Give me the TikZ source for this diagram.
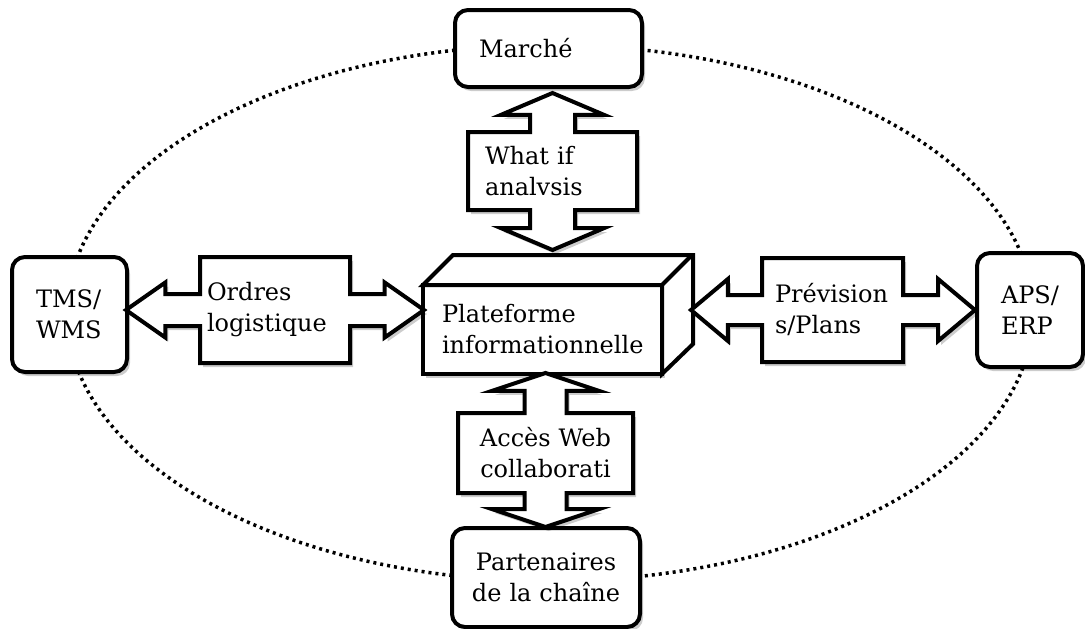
\documentclass[tikz,border=0pt]{standalone}
\usepackage{fontspec}
\setmainfont{DejaVu Serif}
\usetikzlibrary{calc,shapes.arrows,shadows}
\hyphenpenalty=10000
\exhyphenpenalty=10000

\tikzset{
	texte/.style={font=\fontsize{24}{31}\selectfont},
	ombre/.style={drop shadow={shadow xshift=3pt, shadow yshift=-4pt, opacity=0.2, fill=black}},
	bloc/.style={draw, line width=4pt, rounded corners=13pt, fill=white, align=left, inner xsep=24pt, inner ysep=0pt, ombre},
	fleche/.style={arrow box, draw, line width=4pt, fill=white, align=left, inner ysep=0pt, ombre}
}

\begin{document}
\begin{tikzpicture}[x=1pt, y=-1pt, every node/.style={texte}]
	\useasboundingbox (0,0) rectangle (1085,629);

	\draw[line width=3.5pt, dash pattern=on 3pt off 4pt] (550,313) ellipse [x radius=483, y radius=268];

	\node[bloc, text width=139pt, minimum height=77pt] (marche) at (548.5,48.5) {Marché};
	\node[bloc, text width=67pt, minimum height=115pt] (tms) at (69.5,314.5) {TMS/\\WMS};
	\node[bloc, text width=58pt, minimum height=114pt] (aps) at (1030,310) {APS/\\ERP};
	\node[bloc, align=center, inner xsep=6pt, text width=176pt, minimum height=99pt] (part) at (546,577.5) {Partenaires\\de la chaîne};

	\node[draw, line width=4pt, fill=white, align=left, inner xsep=19pt, inner ysep=0pt, outer sep=0pt,
		text width=201pt, minimum height=89pt, ombre] (plat) at (542.5,329.5) {Plateforme\\informationnelle};
	\draw[line width=4pt, fill=white] (plat.north west) -- ++(30,-30) -- ++(240,0) -- ++(0,89) -- (plat.south east) -- (plat.north east) -- cycle;
	\draw[line width=4pt] (plat.north east) -- ++(30,-30);

	\node[fleche, text width=135pt, inner xsep=17pt, minimum height=78pt,
		arrow box arrows={north:37pt, south:38pt}, arrow box shaft width=45pt,
		arrow box head extend=29pt, arrow box tip angle=134] (whatif) at (552.5,171) {What if\\analvsis};
	\node[fleche, text width=136pt, inner xsep=7pt, minimum height=106pt,
		arrow box arrows={west:72pt, east:72pt}, arrow box shaft width=32pt,
		arrow box head extend=11.5pt, arrow box tip angle=70] (ordres) at (275,310) {Ordres\\logistique};
	\node[fleche, text width=115pt, inner xsep=13pt, minimum height=104pt,
		arrow box arrows={west:69pt, east:70pt}, arrow box shaft width=30pt,
		arrow box head extend=16pt, arrow box tip angle=80] (prev) at (832.5,310) {Prévision\\s/Plans};
	\node[fleche, align=center, text width=155pt, inner xsep=10pt, minimum height=80pt,
		arrow box arrows={north:38pt, south:32pt}, arrow box shaft width=42pt,
		arrow box head extend=32.5pt, arrow box tip angle=143] (acces) at (545.5,453) {Accès Web\\collaborati};
\end{tikzpicture}
\end{document}
